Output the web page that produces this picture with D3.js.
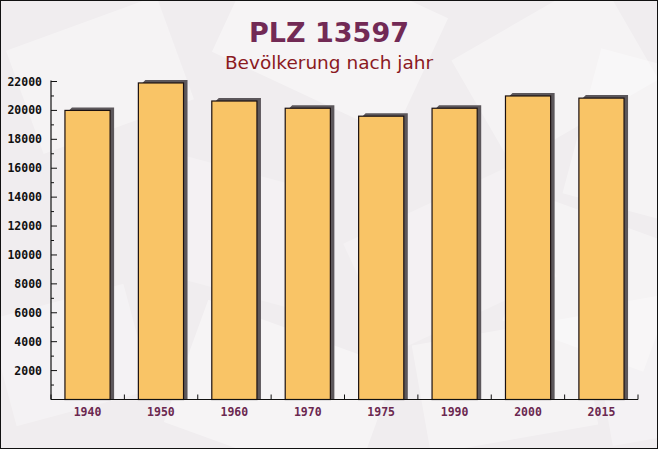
<!DOCTYPE html>
<html><head><meta charset="utf-8">
<script src="https://cdn.jsdelivr.net/npm/d3@7"></script>
<style>body{margin:0;background:#fff}svg{display:block}</style>
</head><body>
<script>
const years = ["1940","1950","1960","1970","1975","1990","2000","2015"];
const population = [20000, 21900, 20650, 20150, 19600, 20150, 21000, 20850];
const yTicks = [2000,4000,6000,8000,10000,12000,14000,16000,18000,20000,22000];
const titleText = "PLZ 13597";
const subtitleText = "Bevölkerung nach jahr";

const W = 658, H = 449;
const svg = d3.select("body").append("svg").attr("width", W).attr("height", H);

// background
svg.append("rect").attr("x",0).attr("y",0).attr("width",W).attr("height",H).attr("fill","#f0edef");
const deco = svg.append("g").attr("fill","#ffffff");
const shapes = [
  [20,20,160,110,-20,0.35],[230,-30,200,130,25,0.4],[470,10,170,120,-30,0.35],
  [150,170,160,120,15,0.25],[360,200,180,120,-25,0.25],[520,220,150,130,20,0.35],
  [0,300,140,110,-15,0.3],[180,330,200,130,20,0.4],[420,330,170,110,-10,0.35],
  [580,60,110,150,15,0.35],[600,300,80,140,-10,0.3]
];
shapes.forEach(s=>{
  deco.append("rect").attr("x",s[0]).attr("y",s[1]).attr("width",s[2]).attr("height",s[3])
    .attr("opacity",s[5]).attr("transform",`rotate(${s[4]},${s[0]+s[2]/2},${s[1]+s[3]/2})`);
});

const x0 = 51, x1 = 638, yBase = 399.5, yTop = 81.5;
const x = d3.scaleBand().domain(years).range([x0, x1]).paddingInner(0.385).paddingOuter(0.19);
const y = d3.scaleLinear().domain([0, 22000]).range([yBase, yTop]);

// bars
const bars = svg.append("g");
const off = 4;
years.forEach((yr,i)=>{
  const bx = x(yr), bw = x.bandwidth(), by = y(population[i]);
  bars.append("path")
    .attr("d", `M${bx+bw},${yBase} L${bx+bw},${by} L${bx+off},${by} L${bx+off+3},${by-off+1} L${bx+bw+off},${by-off+1} L${bx+bw+off},${yBase} Z`)
    .attr("fill","#5c575b");
  bars.append("rect").attr("x",bx).attr("y",by).attr("width",bw).attr("height",yBase-by)
    .attr("fill","#f9c466").attr("stroke","#1a1010").attr("stroke-width",1.2);
});

// y axis
const ya = svg.append("g").attr("transform",`translate(${x0},0)`);
ya.append("line").attr("x1",0).attr("x2",0).attr("y1",yTop-1).attr("y2",yBase).attr("stroke","#111").attr("stroke-width",1.2);
d3.range(1000, 22001, 1000).forEach(v=>{
  const major = v % 2000 === 0;
  ya.append("line").attr("x1",0).attr("x2",major?6:3).attr("y1",y(v)).attr("y2",y(v)).attr("stroke","#111");
});
ya.selectAll("text").data(yTicks).join("text")
  .attr("x",-9).attr("y",d=>y(d)+4).attr("text-anchor","end")
  .attr("font-family","DejaVu Sans Mono, monospace").attr("font-weight","bold").attr("font-size",11.5)
  .attr("fill","#111").text(d=>d);

// x axis
const xa = svg.append("g");
xa.append("line").attr("x1",x0).attr("x2",x1).attr("y1",yBase).attr("y2",yBase).attr("stroke","#111").attr("stroke-width",1.2);
d3.range(0, years.length+1).forEach(i=>{
  const tx = x0 + i*(x1-x0)/years.length;
  xa.append("line").attr("x1",tx).attr("x2",tx).attr("y1",yBase).attr("y2",yBase-5).attr("stroke","#111");
});
xa.selectAll("text").data(years).join("text")
  .attr("x",d=>x(d)+x.bandwidth()/2).attr("y",416).attr("text-anchor","middle")
  .attr("font-family","DejaVu Sans Mono, monospace").attr("font-weight","bold").attr("font-size",11.5)
  .attr("fill","#6b2850").text(d=>d);

// titles
svg.append("text").attr("x",329).attr("y",42).attr("text-anchor","middle")
  .attr("font-family","DejaVu Sans, Verdana, sans-serif").attr("font-weight","bold").attr("font-size",27)
  .attr("fill","#722a55").text(titleText);
svg.append("text").attr("x",329).attr("y",69).attr("text-anchor","middle")
  .attr("font-family","DejaVu Sans, Verdana, sans-serif").attr("font-size",18.5)
  .attr("fill","#8b1a1f").text(subtitleText);

// border
svg.append("rect").attr("x",0.5).attr("y",0.5).attr("width",W-1).attr("height",H-1)
  .attr("fill","none").attr("stroke","#111");
</script>
</body></html>
